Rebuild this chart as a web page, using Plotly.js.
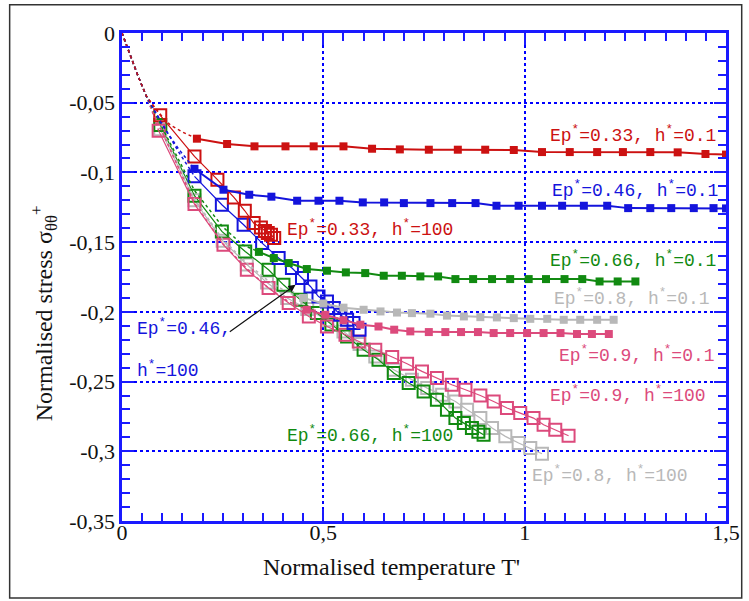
<!DOCTYPE html>
<html>
<head>
<meta charset="utf-8">
<script src="https://cdn.plot.ly/plotly-3.0.1.min.js"></script>
<style>html,body{margin:0;padding:0;background:#fff}#chart{width:749px;height:601px}</style>
</head>
<body>
<div id="chart"></div>
<script>
// ---------- data ----------
// shared start of every curve
const startX = [0, 0.02, 0.04, 0.06];
const startY = [0, -0.016, -0.031, -0.045];

// h* = 0.1 series (small filled squares)
const red01CurveX = [0.08, 0.1, 0.12, 0.15];
const red01CurveY = [-0.053, -0.060, -0.066, -0.071];
const red01X = [0.186, 0.261, 0.329, 0.406, 0.476, 0.55, 0.621, 0.69, 0.762, 0.834, 0.902, 0.973, 1.043, 1.112, 1.18, 1.244, 1.312, 1.38, 1.449, 1.5];
const red01Y = [-0.0758, -0.0796, -0.0813, -0.0813, -0.0813, -0.0813, -0.083, -0.0835, -0.0837, -0.0837, -0.0837, -0.0839, -0.0854, -0.0854, -0.0854, -0.0854, -0.0854, -0.0856, -0.0868, -0.0872];

const blue01CurveX = [0.08, 0.1, 0.14];
const blue01CurveY = [-0.056, -0.066, -0.083];
const blue01X = [0.18, 0.252, 0.316, 0.371, 0.435, 0.488, 0.54, 0.598, 0.651, 0.7, 0.766, 0.82, 0.878, 0.93, 0.985, 1.043, 1.093, 1.147, 1.205, 1.257, 1.312, 1.364, 1.42, 1.469, 1.5];
const blue01Y = [-0.0974, -0.1124, -0.116, -0.1174, -0.1203, -0.1203, -0.1203, -0.1215, -0.1215, -0.122, -0.122, -0.122, -0.122, -0.1239, -0.1239, -0.1239, -0.1239, -0.1239, -0.1239, -0.1256, -0.1256, -0.1256, -0.1256, -0.1256, -0.1258];

const green01CurveX = [0.08, 0.1, 0.18, 0.25, 0.3];
const green01CurveY = [-0.057, -0.068, -0.113, -0.139, -0.152];
const green01X = [0.34, 0.377, 0.414, 0.459, 0.509, 0.556, 0.604, 0.65, 0.695, 0.741, 0.785, 0.828, 0.872, 0.919, 0.964, 1.01, 1.053, 1.099, 1.143, 1.186, 1.231, 1.275];
const green01Y = [-0.157, -0.1614, -0.165, -0.1693, -0.1705, -0.1717, -0.1722, -0.1741, -0.1741, -0.1746, -0.1746, -0.1765, -0.1765, -0.1765, -0.1765, -0.1765, -0.1765, -0.1765, -0.1765, -0.1782, -0.1782, -0.1782];

const gray01CurveX = [0.08, 0.1, 0.18, 0.25, 0.31, 0.36, 0.41];
const gray01CurveY = [-0.058, -0.069, -0.119, -0.148, -0.165, -0.177, -0.186];
const gray01X = [0.45, 0.5, 0.55, 0.6, 0.642, 0.683, 0.72, 0.766, 0.807, 0.849, 0.89, 0.931, 0.973, 1.014, 1.056, 1.097, 1.138, 1.18, 1.221];
const gray01Y = [-0.19, -0.194, -0.197, -0.1985, -0.1997, -0.2005, -0.2009, -0.2013, -0.2027, -0.2033, -0.2038, -0.204, -0.2045, -0.205, -0.205, -0.2057, -0.2057, -0.2057, -0.2057];

const pink01CurveX = [0.08, 0.1, 0.18, 0.25, 0.31, 0.36, 0.41];
const pink01CurveY = [-0.059, -0.071, -0.122, -0.151, -0.169, -0.182, -0.192];
const pink01X = [0.459, 0.505, 0.55, 0.592, 0.637, 0.676, 0.716, 0.762, 0.803, 0.842, 0.884, 0.923, 0.964, 1.006, 1.047, 1.089, 1.13, 1.167, 1.209];
const pink01Y = [-0.1985, -0.2021, -0.206, -0.2092, -0.2105, -0.2128, -0.214, -0.2145, -0.2145, -0.2145, -0.2145, -0.2152, -0.2152, -0.2152, -0.2152, -0.2152, -0.2159, -0.2159, -0.2159];

// h* = 100 series (large open squares)
const red100CurveX = [0.08];
const red100CurveY = [-0.053];
const red100X = [0.095, 0.18, 0.237, 0.278, 0.305, 0.327, 0.345, 0.355, 0.362, 0.37, 0.378];
const red100Y = [-0.059, -0.0885, -0.1052, -0.1179, -0.1275, -0.1363, -0.1395, -0.142, -0.1435, -0.1447, -0.147];

const blue100CurveX = [0.08, 0.1, 0.14];
const blue100CurveY = [-0.055, -0.064, -0.085];
const blue100X = [0.18, 0.248, 0.302, 0.348, 0.389, 0.422, 0.447, 0.468, 0.488, 0.509, 0.526, 0.542, 0.559, 0.575, 0.59];
const blue100Y = [-0.1028, -0.1232, -0.1375, -0.1507, -0.1614, -0.1686, -0.1757, -0.1818, -0.189, -0.1925, -0.1973, -0.2021, -0.2057, -0.208, -0.2128];

const green100CurveX = [0.08];
const green100CurveY = [-0.057];
const green100X = [0.095, 0.18, 0.248, 0.306, 0.364, 0.401, 0.443, 0.484, 0.52, 0.559, 0.6, 0.637, 0.675, 0.712, 0.749, 0.782, 0.807, 0.828, 0.849, 0.869, 0.885, 0.898];
const green100Y = [-0.066, -0.1167, -0.1423, -0.1567, -0.1698, -0.1806, -0.1914, -0.2009, -0.209, -0.2177, -0.2272, -0.2344, -0.2439, -0.2511, -0.2571, -0.2631, -0.2702, -0.2762, -0.2798, -0.2833, -0.286, -0.2882];

const gray100CurveX = [0.08];
const gray100CurveY = [-0.058];
const gray100X = [0.095, 0.18, 0.25, 0.31, 0.36, 0.41, 0.46, 0.51, 0.55, 0.59, 0.629, 0.675, 0.72, 0.758, 0.795, 0.828, 0.857, 0.89, 0.919, 0.952, 0.985, 1.014, 1.043];
const gray100Y = [-0.069, -0.12, -0.149, -0.166, -0.179, -0.19, -0.198, -0.206, -0.214, -0.223, -0.232, -0.2415, -0.2487, -0.2547, -0.2595, -0.2643, -0.2702, -0.2762, -0.2833, -0.2893, -0.2941, -0.2977, -0.3018];

const pink100CurveX = [0.08];
const pink100CurveY = [-0.060];
const pink100X = [0.091, 0.18, 0.252, 0.31, 0.364, 0.414, 0.464, 0.509, 0.555, 0.588, 0.629, 0.671, 0.708, 0.745, 0.782, 0.819, 0.853, 0.89, 0.923, 0.956, 0.989, 1.022, 1.047, 1.076, 1.109];
const pink100Y = [-0.0701, -0.1227, -0.1519, -0.1698, -0.1829, -0.1937, -0.2033, -0.2105, -0.2164, -0.2212, -0.2272, -0.2324, -0.2372, -0.2427, -0.2475, -0.2523, -0.2559, -0.26, -0.2643, -0.269, -0.2726, -0.2762, -0.281, -0.2846, -0.2889];

// tick labels
const xTickVals = [0, 0.5, 1, 1.5];
const xTickText = ["0", "0,5", "1", "1,5"];
const yTickVals = [0, -0.05, -0.1, -0.15, -0.2, -0.25, -0.3, -0.35];
const yTickText = ["0", "-0,05", "-0,1", "-0,15", "-0,2", "-0,25", "-0,3", "-0,35"];

// labels
const labelTexts = [
  "Ep<sup>*</sup>=0.33, h<sup>*</sup>=0.1",
  "Ep<sup>*</sup>=0.46, h<sup>*</sup>=0.1",
  "Ep<sup>*</sup>=0.66, h<sup>*</sup>=0.1",
  "Ep<sup>*</sup>=0.8, h<sup>*</sup>=0.1",
  "Ep<sup>*</sup>=0.9, h<sup>*</sup>=0.1",
  "Ep<sup>*</sup>=0.9, h<sup>*</sup>=100",
  "Ep<sup>*</sup>=0.66, h<sup>*</sup>=100",
  "Ep<sup>*</sup>=0.8, h<sup>*</sup>=100",
  "Ep<sup>*</sup>=0.33, h<sup>*</sup>=100",
  "Ep<sup>*</sup>=0.46,",
  "h<sup>*</sup>=100"
];
const labelX = [1.059, 1.064, 1.059, 1.069, 1.081, 1.059, 0.406, 1.014, 0.406, 0.033, 0.033];
const labelY = [-0.073, -0.1124, -0.1626, -0.190, -0.2308, -0.2594, -0.2881, -0.3168, -0.1404, -0.2114, -0.2415];

// ---------- styles ----------
const RED = "#cc1111", BLUE = "#1414dc", GREEN = "#118a11", GRAY = "#b8b8b8", PINK = "#dc4a7c";
const AXIS = "#1a1aff";
const labelColors = [RED, BLUE, GREEN, GRAY, PINK, PINK, GREEN, GRAY, RED, BLUE, BLUE];

function curve(cx, cy, mx, my, color) {
  return {x: startX.concat(cx, [mx[0]]), y: startY.concat(cy, [my[0]]), type: "scatter", mode: "lines",
          line: {color: color, width: 1.5, dash: "dot"}, hoverinfo: "skip", showlegend: false};
}
function filled(mx, my, color) {
  return {x: mx, y: my, type: "scatter", mode: "lines+markers", line: {color: color, width: 2},
          marker: {symbol: "square", size: 8, color: color}, showlegend: false};
}
function open(mx, my, color) {
  return {x: mx, y: my, type: "scatter", mode: "lines+markers", line: {color: color, width: 1.2},
          marker: {symbol: "square-open", size: 12, color: color, line: {width: 2, color: color}}, showlegend: false};
}

const traces = [
  curve(gray100CurveX, gray100CurveY, gray100X, gray100Y, GRAY), open(gray100X, gray100Y, GRAY),
  curve(green100CurveX, green100CurveY, green100X, green100Y, GREEN), open(green100X, green100Y, GREEN),
  curve(pink100CurveX, pink100CurveY, pink100X, pink100Y, PINK), open(pink100X, pink100Y, PINK),
  curve(blue100CurveX, blue100CurveY, blue100X, blue100Y, BLUE), open(blue100X, blue100Y, BLUE),
  curve(red100CurveX, red100CurveY, red100X, red100Y, RED), open(red100X, red100Y, RED),
  curve(gray01CurveX, gray01CurveY, gray01X, gray01Y, GRAY), filled(gray01X, gray01Y, GRAY),
  curve(pink01CurveX, pink01CurveY, pink01X, pink01Y, PINK), filled(pink01X, pink01Y, PINK),
  curve(green01CurveX, green01CurveY, green01X, green01Y, GREEN), filled(green01X, green01Y, GREEN),
  curve(blue01CurveX, blue01CurveY, blue01X, blue01Y, BLUE), filled(blue01X, blue01Y, BLUE),
  curve(red01CurveX, red01CurveY, red01X, red01Y, RED), filled(red01X, red01Y, RED),
  // empty trace that makes the tick-only overlay axes exist
  {x: [], y: [], xaxis: "x2", yaxis: "y2", type: "scatter", mode: "markers", showlegend: false, hoverinfo: "skip"}
];

const annotations = labelTexts.map((t, i) => ({
  x: labelX[i], y: labelY[i], xref: "x", yref: "y", text: t, showarrow: false,
  xanchor: "left", yanchor: "middle",
  font: {family: "Liberation Mono, Courier New, monospace", size: 18, color: labelColors[i]}
}));
// arrow pointing from the Ep*=0.46 label to its curve
annotations.push({x: 0.431, y: -0.1806, ax: 0.264, ay: -0.215, xref: "x", yref: "y", axref: "x", ayref: "y",
  text: "", showarrow: true, arrowhead: 2, arrowsize: 1.2, arrowwidth: 1.2, arrowcolor: "#111"});
// axis titles
annotations.push({xref: "paper", yref: "paper", x: 0.446, y: -0.094, xanchor: "center", yanchor: "middle",
  text: "Normalised temperature T'", showarrow: false,
  font: {family: "Liberation Serif, Times New Roman, serif", size: 24, color: "#111"}});
annotations.push({xref: "paper", yref: "paper", x: -0.13, y: 0.4265, xanchor: "center", yanchor: "middle",
  text: "Normalised stress σ<sub>θθ</sub><sup>+</sup>", textangle: -90, showarrow: false,
  font: {family: "Liberation Serif, Times New Roman, serif", size: 24, color: "#111"}});

const tickFont = {family: "Liberation Serif, Times New Roman, serif", size: 22, color: "#111"};
const layout = {
  width: 749, height: 601,
  margin: {l: 122, r: 23, t: 33, b: 80},
  paper_bgcolor: "#fff", plot_bgcolor: "#fff",
  showlegend: false,
  // main axes: labels + dotted grid
  xaxis: {range: [0, 1.5], tickmode: "array", tickvals: xTickVals, ticktext: xTickText, tickfont: tickFont,
    ticks: "", ticklabelstandoff: -4, showline: false,
    showgrid: true, gridcolor: "#0000ff", gridwidth: 2, griddash: "dot", zeroline: false},
  yaxis: {range: [-0.35, 0], tickmode: "array", tickvals: yTickVals, ticktext: yTickText, tickfont: tickFont,
    ticks: "", ticklabelstandoff: 6, showline: false,
    showgrid: true, gridcolor: "#0000ff", gridwidth: 2, griddash: "dot", zeroline: false},
  // overlay axes: frame + major/minor ticks
  xaxis2: {range: [0, 1.5], overlaying: "x", anchor: "y2", side: "bottom", showticklabels: false,
    tickmode: "array", tickvals: xTickVals,
    showline: true, linecolor: AXIS, linewidth: 3, mirror: "ticks",
    ticks: "inside", ticklen: 12, tickwidth: 2, tickcolor: AXIS, showgrid: false, zeroline: false,
    minor: {tickmode: "linear", tick0: 0, dtick: 0.05, ticks: "inside", ticklen: 8, tickwidth: 2, tickcolor: AXIS, showgrid: false}},
  yaxis2: {range: [-0.35, 0], overlaying: "y", anchor: "x2", side: "left", showticklabels: false,
    tickmode: "array", tickvals: yTickVals,
    showline: true, linecolor: AXIS, linewidth: 3, mirror: "ticks",
    ticks: "inside", ticklen: 12, tickwidth: 2, tickcolor: AXIS, showgrid: false, zeroline: false,
    minor: {tickmode: "linear", tick0: 0, dtick: 0.01, ticks: "inside", ticklen: 8, tickwidth: 2, tickcolor: AXIS, showgrid: false}},
  annotations: annotations,
  shapes: [{type: "rect", xref: "paper", yref: "paper", x0: -0.186, x1: 1.026, y0: -0.158, y1: 1.058,
    line: {color: "#333", width: 1.5}, fillcolor: "rgba(0,0,0,0)", layer: "below"}]
};

Plotly.newPlot("chart", traces, layout, {displayModeBar: false});
</script>
</body>
</html>
